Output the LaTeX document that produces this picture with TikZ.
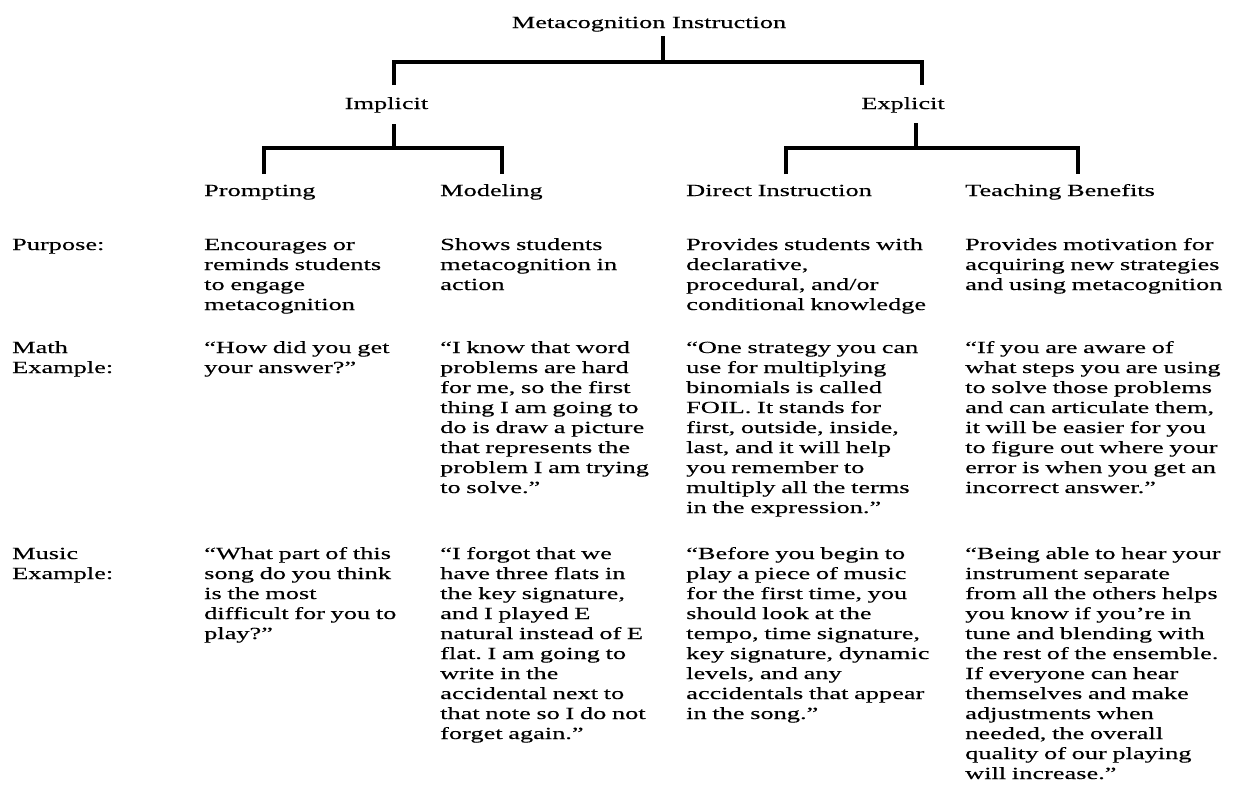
\documentclass[tikz,border=0pt]{standalone}
\usepackage{fontspec}
\setmainfont{Liberation Serif}[FakeStretch=1.55,FakeBold=0.3]
\begin{document}
\frenchspacing
\begin{tikzpicture}[x=1pt,y=-1pt,
  txt/.style={anchor=base west,inner sep=0pt,text width=330pt,align=left,
    font=\fontsize{17}{20}\selectfont\frenchspacing},
  hd/.style={anchor=base,inner sep=0pt,font=\fontsize{17}{20}\selectfont},
  tree/.style={line width=4pt,line join=miter,black}]
\useasboundingbox (0,0) rectangle (1234,785);
% tree headings
\node[hd] (root) at (649,28) {Metacognition Instruction};
\node[hd] (imp) at (386.5,109) {Implicit};
\node[hd] (exp) at (903,109) {Explicit};
\node[txt] (prom) at (204,196) {Prompting};
\node[txt] (mod) at (440,196) {Modeling};
\node[txt] (dir) at (686,196) {Direct Instruction};
\node[txt] (teach) at (965,196) {Teaching Benefits};
% tree connectors
\coordinate (r0) at (663,36);
\coordinate (r1) at (663,62);
\coordinate (i0) at (394,85);
\coordinate (e0) at (922,85);
\draw[tree] (r0) -- (r1);
\draw[tree] (i0) -- (i0 |- r1) -- (e0 |- r1) -- (e0);
\coordinate (is) at (394,124);
\coordinate (ib) at (394,148);
\coordinate (p0) at (264,174);
\coordinate (m0) at (502,174);
\draw[tree] (is) -- (ib);
\draw[tree] (p0) -- (p0 |- ib) -- (m0 |- ib) -- (m0);
\coordinate (es) at (916,123);
\coordinate (eb) at (916,148);
\coordinate (d0) at (786,174);
\coordinate (t0) at (1078,174);
\draw[tree] (es) -- (eb);
\draw[tree] (d0) -- (d0 |- eb) -- (t0 |- eb) -- (t0);
% row labels
\node[txt] (lpur) at (12,250) {Purpose:};
\node[txt] (lmath) at (12,353) {Math\\Example:};
\node[txt] (lmus) at (12,559) {Music\\Example:};
% purpose row
\node[txt] (pur1) at (204,250) {Encourages or\\reminds students\\to engage\\metacognition};
\node[txt] (pur2) at (440,250) {Shows students\\metacognition in\\action};
\node[txt] (pur3) at (686,250) {Provides students with\\declarative,\\procedural, and/or\\conditional knowledge};
\node[txt] (pur4) at (965,250) {Provides motivation for\\acquiring new strategies\\and using metacognition};
% math row
\node[txt] (math1) at (204,353) {“How did you get\\your answer?”};
\node[txt] (math2) at (440,353) {“I know that word\\problems are hard\\for me, so the first\\thing I am going to\\do is draw a picture\\that represents the\\problem I am trying\\to solve.”};
\node[txt] (math3) at (686,353) {“One strategy you can\\use for multiplying\\binomials is called\\FOIL. It stands for\\first, outside, inside,\\last, and it will help\\you remember to\\multiply all the terms\\in the expression.”};
\node[txt] (math4) at (965,353) {“If you are aware of\\what steps you are using\\to solve those problems\\and can articulate them,\\it will be easier for you\\to figure out where your\\error is when you get an\\incorrect answer.”};
% music row
\node[txt] (mus1) at (204,559) {“What part of this\\song do you think\\is the most\\difficult for you to\\play?”};
\node[txt] (mus2) at (440,559) {“I forgot that we\\have three flats in\\the key signature,\\and I played E\\natural instead of E\\flat. I am going to\\write in the\\accidental next to\\that note so I do not\\forget again.”};
\node[txt] (mus3) at (686,559) {“Before you begin to\\play a piece of music\\for the first time, you\\should look at the\\tempo, time signature,\\key signature, dynamic\\levels, and any\\accidentals that appear\\in the song.”};
\node[txt] (mus4) at (965,559) {“Being able to hear your\\instrument separate\\from all the others helps\\you know if you’re in\\tune and blending with\\the rest of the ensemble.\\If everyone can hear\\themselves and make\\adjustments when\\needed, the overall\\quality of our playing\\will increase.”};
\end{tikzpicture}
\end{document}
